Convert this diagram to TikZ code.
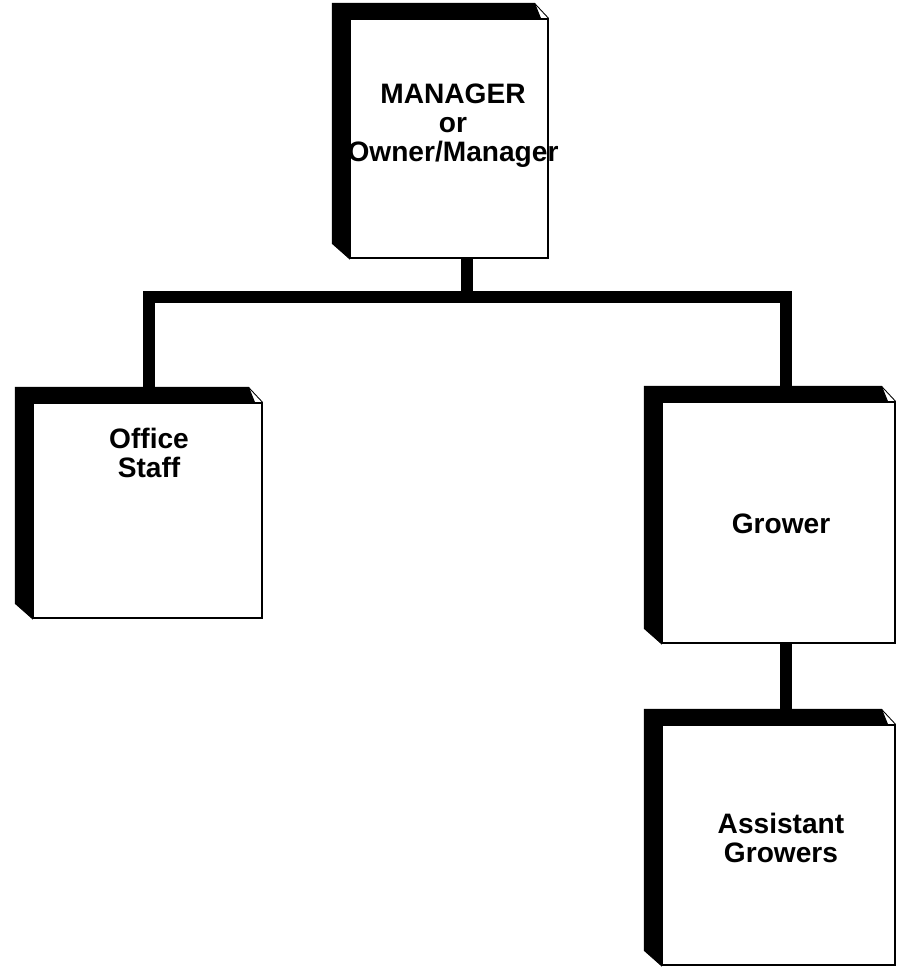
\documentclass[tikz,border=0pt]{standalone}
\usepackage{fontspec}
\setmainfont{Liberation Sans}
\usetikzlibrary{calc}

\begin{document}
\begin{tikzpicture}[x=0.02cm, y=-0.02cm,
	facebox/.style={draw, fill=white, line width=0.7pt, inner sep=0pt},
	slab/.style={fill=black, draw=black, line width=0.5pt},
	boxtext/.style={align=center, font=\fontsize{16}{16.5}\selectfont\bfseries},
	link/.style={line width=0.24cm, line join=miter}]
	\useasboundingbox (0,0) rectangle (903,967);

	\newcommand\drawBox[5]{
		\node[facebox, minimum width=#4*0.02cm, minimum height=#5*0.02cm] (#1) at (#2,#3) {};
		\filldraw[slab] ([shift={(-17,-15)}]#1.north west) -- ([shift={(-14,-15)}]#1.north east) -- ([xshift=-8*0.02cm]#1.north east) -- (#1.north west) -- (#1.south west) -- ([shift={(-17,-15)}]#1.south west) -- cycle;
		\draw[line width=0.5pt] ([shift={(-14,-15)}]#1.north east) -- (#1.north east);
	}

	% connectors
	\coordinate (bar) at (467,297);
	\coordinate (gstem) at (786,0);
	\draw[link] (bar) -- (bar |- 0,258);
	\draw[link] (149,390) |- (bar) -| (gstem |- 0,390);
	\draw[link] (gstem |- 0,640) -- (gstem |- 0,712);

	% boxes
	\drawBox{mgr}{449}{138.5}{198}{239}
	\drawBox{office}{147.5}{510.5}{229}{215}
	\drawBox{grower}{778.5}{522.5}{233}{241}
	\drawBox{asst}{778.5}{845}{233}{240}

	\node[boxtext] (mgr-t) at (453,126) {MANAGER\\or\\Owner/Manager};
	\node[boxtext] (office-t) at (149,453) {Office\\Staff};
	\node[boxtext] (grower-t) at (781,524) {Grower};
	\node[boxtext] (asst-t) at (781,838) {Assistant\\Growers};
\end{tikzpicture}
\end{document}
